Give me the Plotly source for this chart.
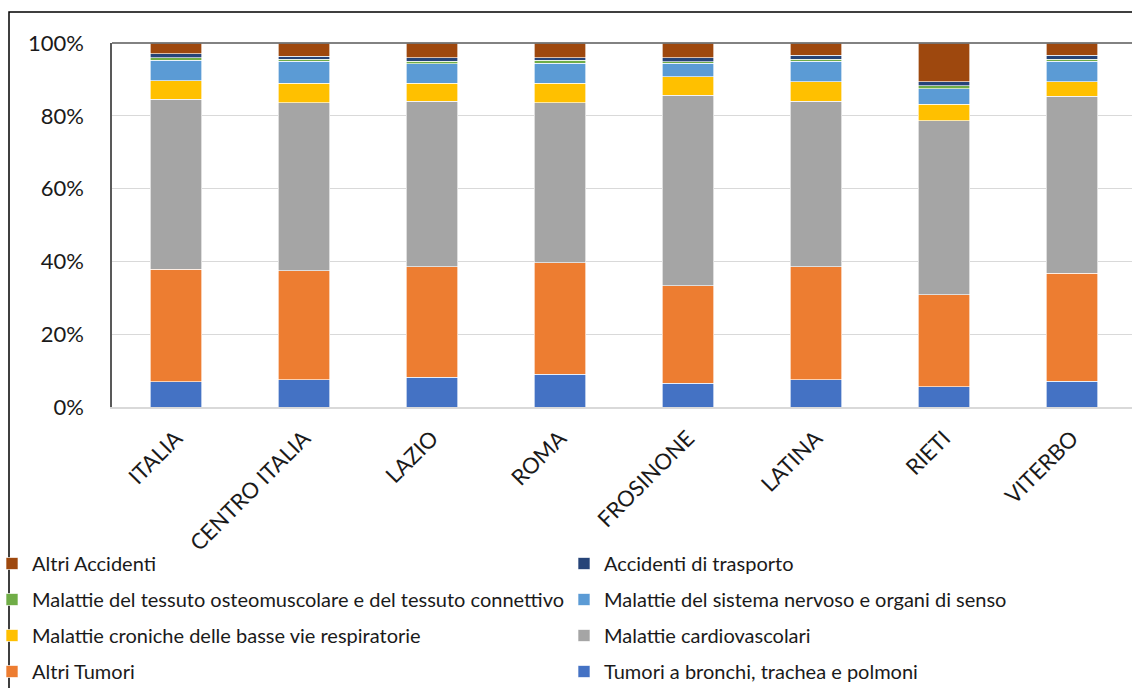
import plotly.graph_objects as go

categories = ["ITALIA", "CENTRO ITALIA", "LAZIO", "ROMA", "FROSINONE", "LATINA", "RIETI", "VITERBO"]

tumori_bronchi = [6.9, 7.5, 8.2, 9.0, 6.5, 7.5, 5.5, 7.1]
altri_tumori = [30.9, 29.9, 30.3, 30.6, 26.8, 31.0, 25.3, 29.7]
cardiovascolari = [46.8, 46.2, 45.5, 44.0, 52.3, 45.5, 47.8, 48.6]
croniche_respiratorie = [5.0, 5.3, 4.9, 5.3, 5.1, 5.3, 4.6, 3.9]
sistema_nervoso = [5.6, 6.1, 5.4, 5.6, 3.8, 5.7, 4.2, 5.7]
osteomuscolare = [0.7, 0.6, 0.7, 0.7, 0.4, 0.6, 0.8, 0.6]
accidenti_trasporto = [1.1, 0.7, 1.0, 0.7, 1.1, 1.1, 1.1, 1.1]
altri_accidenti = [3.0, 3.7, 4.0, 4.1, 4.0, 3.3, 10.7, 3.3]

y_ticks = [0, 20, 40, 60, 80, 100]
y_tick_labels = ["0%", "20%", "40%", "60%", "80%", "100%"]

series = [
    ("Tumori a bronchi, trachea e polmoni", tumori_bronchi, "#4472C4", "legend2"),
    ("Altri Tumori", altri_tumori, "#ED7D31", "legend"),
    ("Malattie cardiovascolari", cardiovascolari, "#A5A5A5", "legend2"),
    ("Malattie croniche delle basse vie respiratorie", croniche_respiratorie, "#FFC000", "legend"),
    ("Malattie del sistema nervoso e organi di senso", sistema_nervoso, "#5B9BD5", "legend2"),
    ("Malattie del tessuto osteomuscolare e del tessuto connettivo", osteomuscolare, "#70AD47", "legend"),
    ("Accidenti di trasporto", accidenti_trasporto, "#264478", "legend2"),
    ("Altri Accidenti", altri_accidenti, "#9E480E", "legend"),
]

fig = go.Figure()
n = len(series)
for i, (name, vals, color, lg) in enumerate(series):
    fig.add_trace(go.Bar(
        x=categories, y=vals, name=name,
        marker=dict(color=color, line=dict(color="rgba(255,255,255,0.8)", width=0.8)),
        legend=lg, legendgroup="g%d" % i, legendrank=100 * (n - i),
    ))

W, H = 1132, 688
L, T, B = 112, 43, 281
R = 0
pw = W - L - R
ph = H - T - B

def px_x(x):
    return (x - L) / pw

def px_y(y):
    return (H - B - y) / ph

font_family = "Lato, 'Open Sans', sans-serif"
legend_font = dict(size=20, family=font_family, color="#1a1a1a")

fig.update_layout(
    width=W, height=H,
    margin=dict(l=L, r=R, t=T, b=B, autoexpand=False),
    barmode="stack", bargap=0.6,
    plot_bgcolor="white", paper_bgcolor="white",
    font=dict(family=font_family, color="#1a1a1a"),
    legend=dict(
        x=px_x(-8), y=px_y(544), xanchor="left", yanchor="top",
        traceorder="grouped", tracegroupgap=7,
        font=legend_font, bgcolor="rgba(0,0,0,0)", itemclick=False,
    ),
    legend2=dict(
        x=px_x(564), y=px_y(544), xanchor="left", yanchor="top",
        traceorder="grouped", tracegroupgap=7,
        font=legend_font, bgcolor="rgba(0,0,0,0)", itemclick=False,
    ),
    xaxis=dict(
        range=[-0.5, -0.5 + pw / 128.0],
        tickangle=-45, tickfont=dict(size=22, family=font_family, color="#1a1a1a"),
        showline=True, linecolor="#D9D9D9", linewidth=1.5,
        ticks="", ticklabelstandoff=8, showgrid=False,
    ),
    yaxis=dict(
        range=[0, 100], tickvals=y_ticks, ticktext=y_tick_labels,
        tickfont=dict(size=22, family=font_family, color="#1a1a1a"),
        showgrid=True, gridcolor="#D9D9D9", gridwidth=1.2,
        showline=True, linecolor="#595959", linewidth=1.5,
        ticks="", ticklabelstandoff=22, zeroline=False,
    ),
    shapes=[
        dict(type="line", xref="paper", yref="paper", x0=0, x1=1.01, y0=1, y1=1,
             line=dict(color="#595959", width=1.5)),
        dict(type="rect", xref="paper", yref="paper",
             x0=px_x(9), x1=px_x(1140), y0=px_y(700), y1=px_y(12),
             line=dict(color="#000000", width=1.5), fillcolor="rgba(0,0,0,0)"),
    ],
)

fig.write_html(
    "out.html",
    config={"displayModeBar": False},
    post_script="document.body.style.margin='0';document.body.style.overflow='hidden';",
)
